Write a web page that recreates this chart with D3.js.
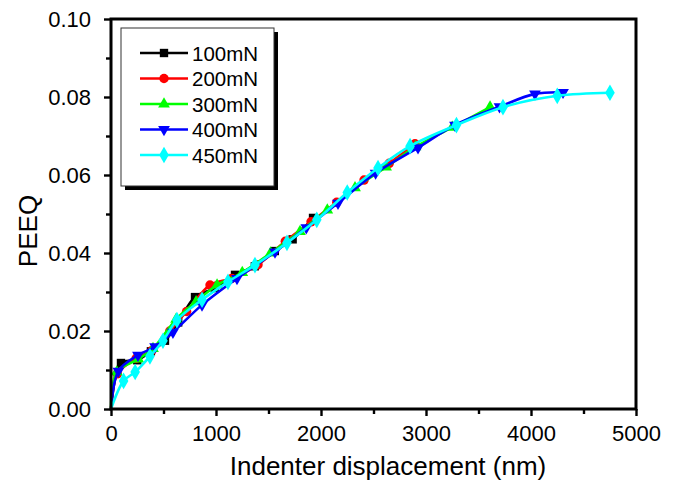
<!DOCTYPE html>
<html>
<head>
<meta charset="utf-8">
<script src="https://cdn.jsdelivr.net/npm/d3@7"></script>
<style>
  body { margin: 0; background: #fff; }
  svg { display: block; font-family: "Liberation Sans", Arial, sans-serif; }
</style>
</head>
<body>
<svg id="chart" width="685" height="481"></svg>
<script>
// series data [displacement nm, PEEQ]
let s100 = [[0,0],[95,0.0118],[250,0.0125],[380,0.0148],[514,0.0175],[640,0.0222],[800,0.0287],[990,0.031],[1181,0.0344],[1370,0.0366],[1560,0.0405],[1730,0.0435],[1924,0.049]];
let s200 = [[0,0],[60,0.009],[240,0.013],[390,0.015],[560,0.02],[720,0.025],[943,0.0318],[1150,0.0335],[1400,0.037],[1660,0.043],[1905,0.048],[2150,0.053],[2410,0.0587],[2650,0.063],[2895,0.068]];
let s300 = [[0,0],[55,0.0095],[260,0.0128],[400,0.0155],[620,0.023],[810,0.0275],[1010,0.0318],[1250,0.035],[1520,0.040],[1800,0.0455],[2060,0.051],[2324,0.0567],[2620,0.062],[2900,0.0672],[3250,0.0722],[3610,0.0774]];
let s400 = [[0,0],[70,0.0097],[257,0.0138],[420,0.016],[590,0.0197],[867,0.0267],[1200,0.0335],[1562,0.0403],[1860,0.0465],[2162,0.0528],[2520,0.0605],[2924,0.067],[3276,0.0728],[3700,0.0775],[4038,0.0808],[4305,0.0812]];
let s450 = [[0,0],[120,0.0072],[230,0.0095],[371,0.0135],[495,0.0175],[628,0.0228],[867,0.028],[1114,0.0326],[1371,0.0369],[1676,0.0426],[1960,0.0485],[2250,0.0555],[2543,0.0618],[2848,0.0674],[3290,0.0728],[3733,0.0774],[4250,0.0803],[4752,0.0811]];

let labels = ["100mN","200mN","300mN","400mN","450mN"];
let colors = ["#000000","#ff0000","#00ff00","#0000ff","#00ffff"];
let shapes = [d3.symbolSquare, d3.symbolCircle, d3.symbolTriangle, "down", d3.symbolDiamond];
let allSeries = [s100, s200, s300, s400, s450];

let xTicks = [0,1000,2000,3000,4000,5000];
let yTicks = [0,0.02,0.04,0.06,0.08,0.10];

let svg = d3.select("#chart");
let pLeft = 111, pRight = 636, pTop = 19, pBottom = 409;

let x = d3.scaleLinear().domain([0,5000]).range([pLeft,pRight]);
let y = d3.scaleLinear().domain([0,0.1]).range([pBottom,pTop]);

// markers
let symbolPath = function(shape, size){
    if(shape === "down"){
        return d3.symbol().type(d3.symbolTriangle).size(size)();
    }
    return d3.symbol().type(shape).size(size)();
};
let symSize = [70, 70, 60, 60, 80];

let line = d3.line().x(d => x(d[0])).y(d => y(d[1])).curve(d3.curveCatmullRom.alpha(0.5));

allSeries.forEach((s, i) => {
    let g = svg.append("g");
    g.append("path")
        .attr("d", line(s))
        .attr("fill", "none")
        .attr("stroke", colors[i])
        .attr("stroke-width", 2.6);
    g.selectAll("path.m")
        .data(s.slice(1))
        .enter().append("path")
        .attr("class", "m")
        .attr("d", symbolPath(shapes[i], symSize[i]))
        .attr("transform", d => "translate(" + x(d[0]) + "," + y(d[1]) + ")" + (shapes[i] === "down" ? " rotate(180)" : ""))
        .attr("fill", colors[i]);
});

// frame
svg.append("rect")
    .attr("x", pLeft).attr("y", pTop)
    .attr("width", pRight-pLeft).attr("height", pBottom-pTop)
    .attr("fill", "none").attr("stroke", "#000").attr("stroke-width", 3);

// axes
let xAxis = svg.append("g")
    .attr("transform", "translate(0," + pBottom + ")")
    .call(d3.axisBottom(x).tickValues(xTicks).tickSize(7).tickFormat(d3.format("d")));
svg.append("g")
    .attr("transform", "translate(0," + pBottom + ")")
    .call(d3.axisBottom(x).tickValues(d3.range(500,5000,1000)).tickSize(5).tickFormat(""));
let yAxis = svg.append("g")
    .attr("transform", "translate(" + pLeft + ",0)")
    .call(d3.axisLeft(y).tickValues(yTicks).tickSize(7).tickFormat(d3.format(".2f")));
svg.append("g")
    .attr("transform", "translate(" + pLeft + ",0)")
    .call(d3.axisLeft(y).tickValues(d3.range(0.01,0.1,0.02)).tickSize(5).tickFormat(""));

svg.selectAll(".domain").remove();
svg.selectAll(".tick line").attr("stroke", "#000").attr("stroke-width", 2.4);
xAxis.selectAll("text").attr("font-size", 22).attr("fill", "#000").attr("dy", "1.0em");
yAxis.selectAll("text").attr("font-size", 22).attr("fill", "#000").attr("x", -20);

svg.append("text")
    .attr("x", 388).attr("y", 475)
    .attr("text-anchor", "middle")
    .attr("font-size", 26)
    .text("Indenter displacement (nm)");
svg.append("text")
    .attr("transform", "translate(37,231) rotate(-90)")
    .attr("text-anchor", "middle")
    .attr("font-size", 26)
    .text("PEEQ");

// legend
let lg = svg.append("g");
lg.append("rect").attr("x", 125).attr("y", 32).attr("width", 153).attr("height", 158).attr("fill", "#000");
lg.append("rect").attr("x", 121).attr("y", 28).attr("width", 153).attr("height", 158)
    .attr("fill", "#fff").attr("stroke", "#333").attr("stroke-width", 1);
labels.forEach((l, i) => {
    let ly = 53 + i * 25.5;
    lg.append("line").attr("x1", 140).attr("x2", 188).attr("y1", ly).attr("y2", ly)
        .attr("stroke", colors[i]).attr("stroke-width", 2.6);
    lg.append("path")
        .attr("d", symbolPath(shapes[i], symSize[i]))
        .attr("transform", "translate(164," + ly + ")" + (shapes[i] === "down" ? " rotate(180)" : ""))
        .attr("fill", colors[i]);
    lg.append("text").attr("x", 192).attr("y", ly + 7.5)
        .attr("font-size", 20.5).text(l);
});
</script>
</body>
</html>
